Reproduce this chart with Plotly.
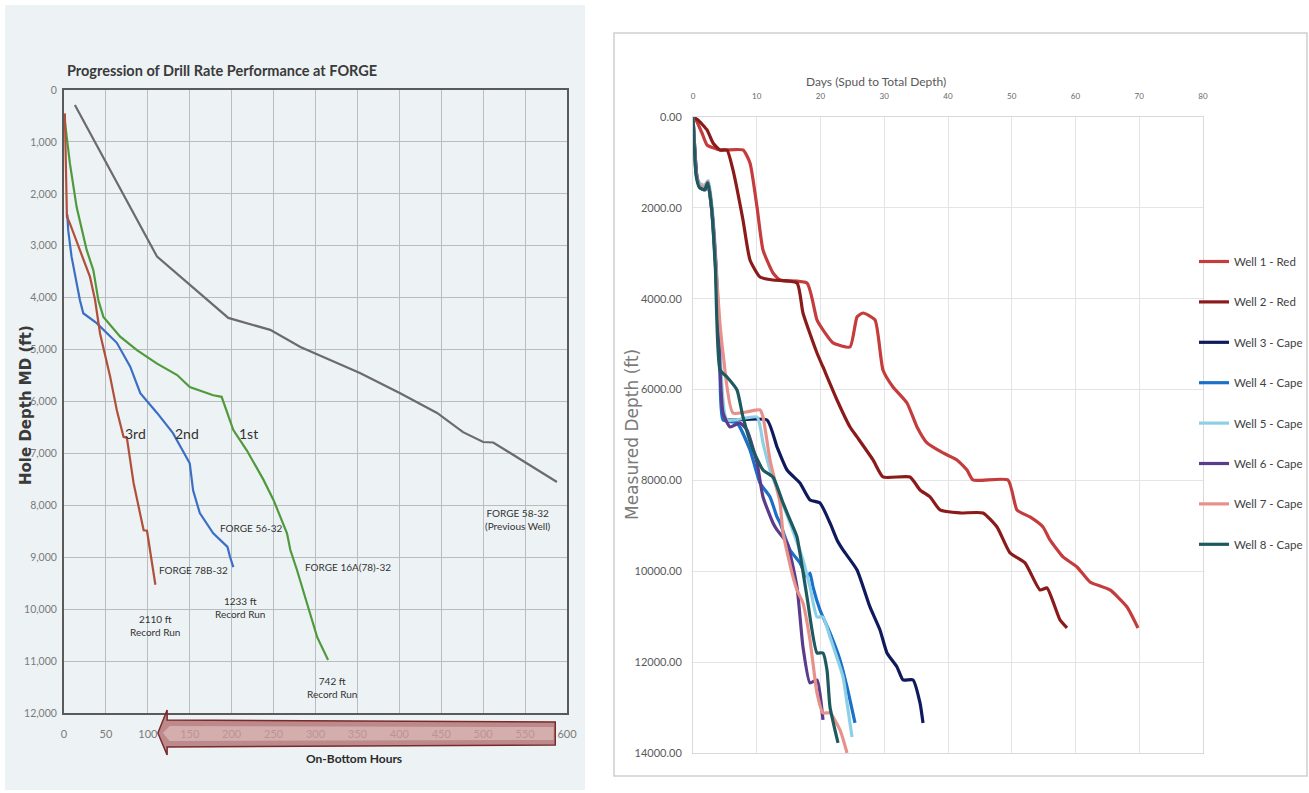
import plotly.graph_objects as go

# ---------------- Left chart data (On-Bottom Hours vs Hole Depth MD ft) ----------------
gray_hours = [13, 111, 196, 246, 282, 317, 353, 401, 445, 476, 500, 512, 588]
gray_depth = [290, 3210, 4390, 4620, 4950, 5200, 5450, 5840, 6220, 6590, 6780, 6790, 7550]

red_hours = [1, 2, 3.5, 7, 19, 31, 37, 43, 55, 63, 71, 75, 83, 95, 99, 102, 106, 109]
red_depth = [450, 1400, 2440, 2570, 3080, 3600, 4040, 4690, 5520, 6170, 6680, 6700, 7570, 8480, 8490, 8800, 9200, 9530]

blue_hours = [4, 5, 9, 19, 23, 39, 63, 79, 91, 111, 130, 150, 154, 162, 178, 195, 198, 202]
blue_depth = [2400, 2700, 3210, 4050, 4300, 4490, 4870, 5330, 5840, 6220, 6610, 7190, 7710, 8150, 8540, 8800, 8990, 9190]

green_hours = [1, 3, 7, 15, 27, 35, 41, 47, 67, 87, 111, 135, 150, 178, 188, 202, 218, 238, 250, 266, 270, 278, 302, 315]
green_depth = [600, 900, 1410, 2250, 3080, 3470, 4050, 4370, 4750, 5010, 5270, 5490, 5720, 5880, 5910, 6550, 6940, 7510, 7900, 8540, 8860, 9250, 10540, 10980]

left_x_ticks = [0, 50, 100, 150, 200, 250, 300, 350, 400, 450, 500, 550, 600]
left_y_ticks = [0, 1000, 2000, 3000, 4000, 5000, 6000, 7000, 8000, 9000, 10000, 11000, 12000]

# ---------------- Right chart data (Days vs Measured Depth ft) ----------------
w1_days = [0, 0.47, 1.41, 2.2, 4.24, 7.84, 8.94, 10.04, 10.98, 12.55, 13.65, 17.88, 19.45, 20.39, 21.96, 24.63,
           25.73, 26.67, 28.55, 29.8, 31.37, 33.57, 35.14, 36.71, 39.22, 41.41, 42.98, 43.92, 49.41, 50.82, 52.86,
           54.9, 56.0, 58.04, 60.24, 62.27, 65.41, 68.08, 69.8]
w1_ft = [0, 66, 352, 616, 726, 726, 1012, 1981, 2927, 3434, 3588, 3654, 4468, 4688, 4974, 5062,
         4402, 4314, 4468, 5569, 5943, 6295, 6823, 7175, 7395, 7549, 7770, 7990, 7990, 8650, 8804,
         9024, 9310, 9684, 9905, 10235, 10411, 10785, 11247]

w2_days = [0, 0.78, 2.2, 3.14, 4.24, 5.33, 6.27, 7.84, 8.94, 10.51, 12.55, 16.31, 17.25, 19.45, 20.39, 22.59,
           24.63, 25.73, 28.24, 29.8, 34.04, 35.61, 37.18, 38.75, 41.88, 45.49, 47.69, 49.73, 52.08, 54.43,
           55.53, 57.57, 58.67]
w2_ft = [0, 66, 286, 572, 726, 726, 1166, 2267, 3147, 3522, 3588, 3654, 4314, 5194, 5503, 6229,
         6823, 7043, 7549, 7924, 7924, 8210, 8364, 8650, 8716, 8716, 9024, 9596, 9816, 10411,
         10367, 11071, 11247]

w3_days = [0, 0.6, 1.1, 1.9, 2.4, 3.0, 3.6, 4.2, 4.71, 5.33, 11.6, 13.18, 14.75, 16.78, 18.35, 19.92, 21.49,
           22.59, 23.53, 25.73, 27.76, 29.33, 30.43, 32.0, 32.94, 34.51, 35.61, 36.08]
w3_ft = [0, 1300, 1550, 1600, 1450, 2100, 3300, 5000, 6603, 6669, 6669, 7263, 7770, 8056, 8430, 8496, 8936,
         9310, 9530, 9971, 10785, 11291, 11797, 12106, 12392, 12392, 12898, 13338]

w4_days = [0, 0.5, 1.0, 1.8, 2.3, 2.9, 3.5, 4.2, 4.71, 6.9, 8.94, 10.51, 12.08, 13.18, 13.65, 15.22, 16.78,
           17.88, 18.35, 18.82, 19.92, 21.49, 23.06, 24.16, 25.41]
w4_ft = [0, 1250, 1500, 1550, 1420, 2000, 3200, 5300, 6669, 6735, 7329, 8056, 8364, 8804, 8936, 9530, 9816,
         10125, 10037, 10345, 10851, 11357, 11951, 12546, 13338]

w5_days = [0, 0.5, 1.0, 1.8, 2.4, 3.0, 3.7, 4.3, 5.33, 10.04, 10.98, 12.08, 13.65, 15.22, 17.25, 18.35, 19.45,
           20.39, 21.49, 23.53, 24.16, 24.94]
w5_ft = [0, 1200, 1450, 1500, 1400, 2000, 3400, 5300, 6669, 6603, 7175, 7770, 8364, 8936, 9750, 10345, 11005,
         11005, 11445, 12326, 12898, 13647]

w6_days = [0, 0.6, 1.1, 1.9, 2.4, 3.0, 3.6, 4.24, 4.71, 5.8, 7.37, 8.47, 10.04, 10.98, 12.55, 13.18, 14.75,
           16.31, 17.25, 18.35, 19.45, 20.39]
w6_ft = [0, 1300, 1550, 1600, 1450, 2100, 3300, 5569, 6515, 6823, 6735, 6889, 7615, 8364, 8936, 9090, 9376,
         10345, 11665, 12458, 12392, 13272]

w7_days = [0, 0.5, 1.0, 1.8, 2.3, 2.9, 3.6, 4.2, 4.71, 6.27, 10.51, 10.98, 12.08, 13.65, 14.12, 15.69, 16.31,
           17.25, 18.35, 19.45, 20.39, 21.49, 23.06, 24.16]
w7_ft = [0, 1250, 1500, 1550, 1420, 2000, 3300, 4500, 5194, 6515, 6449, 6603, 7549, 8496, 9156, 10125, 10411,
         10697, 11511, 12678, 13118, 13118, 13493, 13999]

w8_days = [0, 0.5, 1.0, 1.8, 2.3, 2.9, 3.5, 4.24, 5.33, 6.9, 7.84, 9.41, 10.98, 12.55, 14.12, 15.69, 16.31,
           17.88, 19.45, 20.39, 21.02, 21.49, 22.75]
w8_ft = [0, 1300, 1550, 1600, 1450, 2000, 3300, 5569, 5723, 6009, 6603, 7329, 7770, 7924, 8496, 9024, 9244,
         10565, 11797, 11797, 12172, 12986, 13779]

right_x_ticks = [0, 10, 20, 30, 40, 50, 60, 70, 80]
right_y_ticks = [0, 2000, 4000, 6000, 8000, 10000, 12000, 14000]

well_names = ["Well 1 - Red", "Well 2 - Red", "Well 3 - Cape", "Well 4 - Cape",
              "Well 5 - Cape", "Well 6 - Cape", "Well 7 - Cape", "Well 8 - Cape"]
well_colors = ["#c43c3c", "#8b1a1a", "#0f1a5c", "#1c70c8", "#8dd0e6", "#5b3b8c", "#e8918a", "#1d5a5f"]

FONT = "Lato, Roboto, sans-serif"

fig = go.Figure()

# left chart traces
left_series = [
    (gray_hours, gray_depth, "#6b6b6b", "FORGE 58-32"),
    (green_hours, green_depth, "#4f9a3c", "FORGE 16A(78)-32"),
    (blue_hours, blue_depth, "#3b6fc6", "FORGE 56-32"),
    (red_hours, red_depth, "#b0503a", "FORGE 78B-32"),
]
for hx, dy, col, nm in left_series:
    fig.add_trace(go.Scatter(x=hx, y=dy, mode="lines", line=dict(color=col, width=2.2),
                             name=nm, showlegend=False, xaxis="x", yaxis="y"))

# right chart traces
wells = [(w1_days, w1_ft), (w2_days, w2_ft), (w3_days, w3_ft), (w4_days, w4_ft),
         (w5_days, w5_ft), (w6_days, w6_ft), (w7_days, w7_ft), (w8_days, w8_ft)]
for i, (dx, fy) in enumerate(wells):
    fig.add_trace(go.Scatter(x=dx, y=fy, mode="lines", name=well_names[i],
                             line=dict(color=well_colors[i], width=3.2, shape="spline", smoothing=0.5),
                             legendgroup=well_names[i], xaxis="x2", yaxis="y2"))

W, H = 1309, 793
def px(v): return v / W
def py(v): return (H - v) / H

fig.update_layout(
    width=W, height=H, margin=dict(l=0, r=0, t=0, b=0, autoexpand=False),
    paper_bgcolor="white", plot_bgcolor="rgba(0,0,0,0)",
    xaxis=dict(domain=[px(64), px(567)], range=[0, 600], tickvals=left_x_ticks, automargin=False,
               showgrid=True, gridcolor="#b9bdbf", gridwidth=1, zeroline=False,
               showline=True, mirror=True, linecolor="#5a5a5a", linewidth=2,
               ticks="outside", ticklen=10, tickcolor="rgba(0,0,0,0)",
               tickfont=dict(family=FONT, size=11, color="#7a7a7a"), anchor="y"),
    yaxis=dict(domain=[py(713), py(90)], range=[12000, 0], tickvals=left_y_ticks, tickformat=",",
               automargin=False,
               showgrid=True, gridcolor="#b9bdbf", gridwidth=1, zeroline=False,
               showline=True, mirror=True, linecolor="#5a5a5a", linewidth=2,
               ticks="outside", ticklen=3, tickcolor="rgba(0,0,0,0)",
               tickfont=dict(family=FONT, size=10.5, color="#7a7a7a"), anchor="x"),
    xaxis2=dict(domain=[px(693), px(1203)], range=[0, 80], tickvals=right_x_ticks, side="top",
                automargin=False,
                showgrid=True, gridcolor="#e4e4e4", zeroline=False,
                showline=True, mirror=True, linecolor="#d9d9d9", linewidth=1,
                ticks="outside", ticklen=14, tickcolor="rgba(0,0,0,0)",
                tickfont=dict(family=FONT, size=8, color="#666666"), anchor="y2"),
    yaxis2=dict(domain=[py(753), py(117)], range=[14000, 0], tickvals=right_y_ticks, tickformat=".2f",
                automargin=False,
                showgrid=True, gridcolor="#e4e4e4", zeroline=False,
                showline=True, mirror=True, linecolor="#d9d9d9", linewidth=1,
                ticks="outside", ticklen=8, tickcolor="rgba(0,0,0,0)",
                tickfont=dict(family=FONT, size=11, color="#595959"), anchor="x2"),
    showlegend=True,
    legend=dict(x=px(1194), y=py(247), xanchor="left", yanchor="top",
                font=dict(family=FONT, size=11.5, color="#404040"),
                itemwidth=30, tracegroupgap=21.4, bgcolor="rgba(0,0,0,0)"),
)

# background panels
fig.add_shape(type="rect", xref="paper", yref="paper", x0=px(5), x1=px(585), y0=py(790), y1=py(5),
              fillcolor="#edf2f4", line=dict(width=0), layer="below")
fig.add_shape(type="rect", xref="paper", yref="paper", x0=px(614), x1=px(1307), y0=py(776), y1=py(33),
              fillcolor="white", line=dict(color="#cfcfcf", width=1.5), layer="below")

# left-pointing arrow beneath x axis (hours 112 -> 586)
fig.add_shape(type="path", xref="x", yref="paper",
              path=f"M 112,{py(733)} L 123,{py(710)} L 123,{py(720)} L 586,{py(722)} L 586,{py(745)} "
                   f"L 123,{py(747)} L 123,{py(755)} Z",
              fillcolor="rgba(160,75,75,0.62)", line=dict(color="#7a2a2a", width=1.5), layer="above")
fig.add_shape(type="path", xref="x", yref="paper",
              path=f"M 118,{py(733)} L 126,{py(726)} L 584,{py(727)} L 584,{py(740)} L 126,{py(741)} Z",
              fillcolor="rgba(240,215,215,0.45)", line=dict(width=0), layer="above")

ann = []
ann.append(dict(text="<b>Progression of Drill Rate Performance at FORGE</b>", xref="paper", yref="paper",
                x=px(65), y=py(71), xanchor="left", yanchor="middle", showarrow=False,
                font=dict(family=FONT, size=14.5, color="#3a3a3a")))
ann.append(dict(text="<b>Hole Depth MD (ft)</b>", xref="paper", yref="paper", x=px(15), y=py(405),
                textangle=-90, showarrow=False, font=dict(family="DejaVu Sans", size=15, color="#3a3a3a")))
ann.append(dict(text="<b>On-Bottom Hours</b>", xref="paper", yref="paper", x=px(304), y=py(768),
                showarrow=False, font=dict(family=FONT, size=12, color="#2a2a2a")))
for t, hx in [("3rd", 85), ("2nd", 147), ("1st", 220)]:
    ann.append(dict(text=t, xref="x", yref="y", x=hx, y=6610, showarrow=False,
                    font=dict(family=FONT, size=14, color="#333333")))
for t, hx, dy, anc in [("FORGE 56-32", 184, 8440, "left"), ("FORGE 78B-32", 111, 9250, "left"),
                       ("FORGE 16A(78)-32", 285, 9190, "left"),
                       ("2110 ft<br>Record Run", 109, 10310, "center"),
                       ("1233 ft<br>Record Run", 210, 9960, "center"),
                       ("742 ft<br>Record Run", 320, 11500, "center"),
                       ("FORGE 58-32<br>(Previous Well)", 542, 8270, "center")]:
    ann.append(dict(text=t, xref="x", yref="y", x=hx, y=dy, xanchor=anc, showarrow=False,
                    font=dict(family=FONT, size=10, color="#333333")))
ann.append(dict(text="Days (Spud to Total Depth)", xref="paper", yref="paper", x=px(948), y=py(72),
                showarrow=False, font=dict(family=FONT, size=12, color="#595959")))
ann.append(dict(text="Measured Depth (ft)", xref="paper", yref="paper", x=px(632), y=py(435),
                textangle=-90, showarrow=False, font=dict(family="DejaVu Sans", size=17, color="#7a7a7a")))
fig.update_layout(annotations=ann)

fig.write_html("out.html", config={"displayModeBar": False},
               post_script="document.body.style.margin='0px';document.body.style.overflow='hidden';")
